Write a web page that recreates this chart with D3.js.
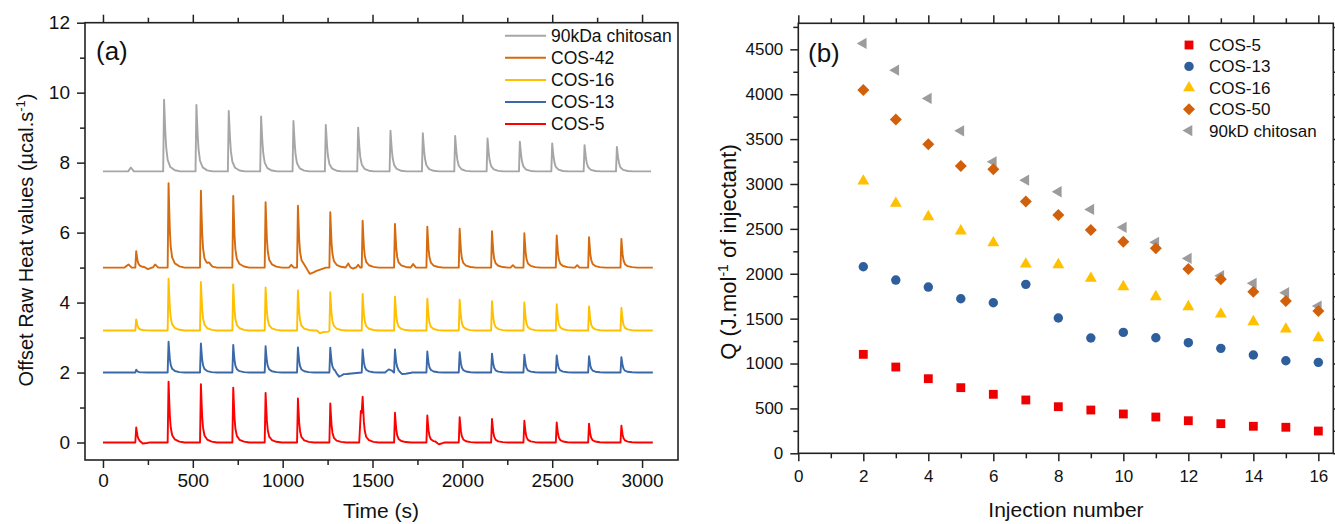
<!DOCTYPE html>
<html><head><meta charset="utf-8">
<script src="https://cdn.jsdelivr.net/npm/d3@7"></script>
<style>
body{margin:0;background:#fff;}
svg{display:block;font-family:"Liberation Sans",Arial,sans-serif;}
</style></head><body>
<svg id="c" width="1335" height="524"></svg>
<script>
// ================= Panel (a) data =================
const injTimes   = [185,365,545,725,905,1085,1265,1445,1625,1805,1985,2165,2345,2525,2705,2885];
const grayTimes  = [340,520,700,880,1060,1240,1420,1600,1780,1960,2140,2320,2500,2680,2860];
const cos5Peaks  = [0.43,1.74,1.67,1.57,1.42,1.26,1.12,1.31,0.85,0.77,0.72,0.67,0.62,0.57,0.54,0.48];
const cos13Peaks = [2.08,2.88,2.83,2.79,2.75,2.72,2.71,2.66,2.66,2.60,2.58,2.54,2.51,2.49,2.47,2.44];
const cos16Peaks = [3.52,4.68,4.59,4.52,4.43,4.35,4.30,4.25,4.17,4.11,4.08,4.04,4.00,3.95,3.89,3.85];
const cos42Peaks = [5.47,7.41,7.20,7.05,6.87,6.77,6.58,6.34,6.25,6.17,6.11,6.04,5.98,5.92,5.87,5.82];
const grayPeaks  = [9.80,9.65,9.48,9.32,9.19,9.08,9.00,8.91,8.84,8.76,8.69,8.60,8.55,8.50,8.45];
const traceNames     = ["90kDa chitosan","COS-42","COS-16","COS-13","COS-5"];
const traceBaselines = [7.75,5.0,3.2,2.0,0];
const traceEnds      = [3050,3060,3060,3060,3060];
// shape of one injection peak: time offset (s) and fraction of peak height
const peakProfileT = [-5,0,3,7,12,20,35,60,90];
const peakProfileF = [0,1,0.75,0.45,0.25,0.12,0.05,0.015,0];
const grayProfileF = [0,1,0.8,0.55,0.33,0.16,0.06,0.015,0];
// small bumps / dips seen on the traces: [time, value]
const grayEvents = [[[140,7.75],[155,7.86],[172,7.75]]];
const cos42Events = [
  [[120,5.0],[142,5.09],[160,5.0]], [[230,5.0],[250,4.95],[272,5.0]], [[278,5.0],[290,5.09],[308,5.0]],
  [[575,5.0],[590,5.07],[610,5.0]], [[1035,5.0],[1048,5.08],[1062,5.0]],
  [[1120,5.0],[1152,4.80],[1185,4.9],[1240,5.0]],
  [[1350,5.0],[1365,5.12],[1378,5.0]], [[1380,5.0],[1392,4.97],[1404,5.0]], [[1408,5.0],[1420,5.08],[1432,5.0]],
  [[1712,5.0],[1726,5.10],[1742,5.0]], [[2268,5.0],[2281,5.07],[2295,5.0]], [[2626,5.0],[2639,5.07],[2652,5.0]]
];
const cos16Events = [[[1192,3.2],[1207,3.12],[1220,3.15],[1255,3.17],[1262,3.2]]];
const cos13Events = [
  [[1290,2.0],[1314,1.86],[1340,1.95],[1440,2.0]],
  [[1570,2.0],[1590,2.09],[1610,2.05],[1619,2.0]],
  [[1640,2.0],[1665,1.93],[1720,2.0]]
];
const cos5Events = [
  [[200,0],[222,-0.05],[262,0]],
  [[1426,0],[1435,0.90],[1440,0.85],[1445,0]],
  [[1850,0],[1870,-0.06],[1900,0]]
];
const traceColors = ["#a6a6a6","#d56b0f","#ffc000","#3a68a8","#ff0000"];

// ================= Panel (b) data =================
const injNumbers = [2,3,4,5,6,7,8,9,10,11,12,13,14,15,16];
const qCOS5  = [1102,961,831,731,657,594,519,482,438,404,363,330,301,290,248];
const qCOS13 = [2078,1930,1852,1722,1677,1882,1507,1284,1347,1287,1232,1169,1095,1031,1013];
const qCOS16 = [3032,2784,2635,2476,2345,2108,2100,1949,1855,1744,1633,1551,1466,1384,1287];
const qCOS50 = [4046,3719,3444,3199,3163,2806,2654,2487,2357,2283,2052,1938,1800,1696,1585];
const qChitosan = [4566,4268,3953,3592,3247,3043,2913,2717,2517,2350,2171,1978,1893,1788,1640];
const seriesNamesB  = ["COS-5","COS-13","COS-16","COS-50","90kD chitosan"];
const seriesColorsB = ["#ee0000","#2e5f9c","#ffc000","#d2600a","#9c9c9c"];

// ================= helpers =================
const svg = d3.select("#c");
function interp(f, t){
  if (t < f[0][0] || t > f[f.length-1][0]) return 0;
  for (let i=0;i<f.length-1;i++){
    const a=f[i], b=f[i+1];
    if (t>=a[0] && t<=b[0]){ if (b[0]===a[0]) return b[1]; return a[1]+(b[1]-a[1])*(t-a[0])/(b[0]-a[0]); }
  }
  return 0;
}
function buildTrace(base, times, peaks, events, tEnd, profF){
  const feats = [];
  times.forEach((t,i)=>feats.push(peakProfileT.map((dt,j)=>[t+dt, profF[j]*(peaks[i]-base)])));
  events.forEach(ev=>feats.push(ev.map(([t,v])=>[t, v-base])));
  let keys = [0, tEnd];
  feats.forEach(f=>f.forEach(p=>keys.push(p[0])));
  keys = Array.from(new Set(keys)).filter(t=>t>=0&&t<=tEnd).sort((a,b)=>a-b);
  return keys.map(t=>[t, base + d3.sum(feats, f=>interp(f,t))]);
}

// ================= Panel (a) =================
const xa = d3.scaleLinear().domain([-100,3200]).range([85,678]);
const ya = d3.scaleLinear().domain([-0.5,12]).range([460,22.7]);

const traces = [
  buildTrace(traceBaselines[0], grayTimes, grayPeaks, grayEvents, traceEnds[0], grayProfileF),
  buildTrace(traceBaselines[1], injTimes, cos42Peaks, cos42Events, traceEnds[1], peakProfileF),
  buildTrace(traceBaselines[2], injTimes, cos16Peaks, cos16Events, traceEnds[2], peakProfileF),
  buildTrace(traceBaselines[3], injTimes, cos13Peaks, cos13Events, traceEnds[3], peakProfileF),
  buildTrace(traceBaselines[4], injTimes, cos5Peaks, cos5Events, traceEnds[4], peakProfileF)
];
const lineA = d3.line().x(d=>xa(d[0])).y(d=>ya(d[1]));
const ga = svg.append("g");
traces.forEach((tr,i)=>{
  ga.append("path").datum(tr).attr("d",lineA).attr("fill","none")
    .attr("stroke",traceColors[i]).attr("stroke-width",1.9).attr("stroke-linejoin","round");
});

function styleAxis(g, fs){
  g.select(".domain").remove();
  g.selectAll(".tick line").attr("stroke","#222").attr("stroke-width",1.5);
  g.selectAll("text").attr("fill","#111").style("font-size",fs+"px").attr("font-family",null);
  g.attr("font-family",null).attr("font-size",null);
}
const xMajA = d3.range(0,3001,500), xMinA = d3.range(250,3000,500);
const yMajA = d3.range(0,13,2), yMinA = d3.range(1,12,2);
let g;
g = svg.append("g").attr("transform","translate(0,460)").call(d3.axisBottom(xa).tickValues(xMajA).tickSize(8).tickPadding(6).tickFormat(d3.format("d"))); styleAxis(g,19);
g = svg.append("g").attr("transform","translate(0,460)").call(d3.axisBottom(xa).tickValues(xMinA).tickSize(5).tickFormat("")); styleAxis(g,19);
g = svg.append("g").attr("transform","translate(0,22.7)").call(d3.axisTop(xa).tickValues(xMajA).tickSize(8).tickFormat("")); styleAxis(g,19);
g = svg.append("g").attr("transform","translate(0,22.7)").call(d3.axisTop(xa).tickValues(xMinA).tickSize(5).tickFormat("")); styleAxis(g,19);
g = svg.append("g").attr("transform","translate(85,0)").call(d3.axisLeft(ya).tickValues(yMajA).tickSize(8).tickPadding(7).tickFormat(d3.format("d"))); styleAxis(g,19);
g = svg.append("g").attr("transform","translate(85,0)").call(d3.axisLeft(ya).tickValues(yMinA).tickSize(5).tickFormat("")); styleAxis(g,19);
svg.append("rect").attr("x",85).attr("y",22.7).attr("width",593).attr("height",437.3)
  .attr("fill","none").attr("stroke","#222").attr("stroke-width",1.6);

svg.append("text").attr("x",96).attr("y",60).style("font-size","26px").attr("fill","#111").text("(a)");

// legend (a)
const legA = svg.append("g");
traceNames.forEach((n,i)=>{
  const y = 35.7 + i*22.1;
  legA.append("line").attr("x1",505).attr("x2",546).attr("y1",y).attr("y2",y)
    .attr("stroke",traceColors[i]).attr("stroke-width",2);
  legA.append("text").attr("x",551).attr("y",y+6).style("font-size","17.5px").attr("fill","#111").text(n);
});

// axis titles (a)
const yt = svg.append("text").attr("transform","translate(33,240) rotate(-90)")
  .attr("text-anchor","middle").style("font-size","20px").attr("fill","#111");
yt.append("tspan").text("Offset Raw Heat values (µcal.s");
yt.append("tspan").attr("dy",-8).style("font-size","13px").text("-1");
yt.append("tspan").attr("dy",8).text(")");
svg.append("text").attr("x",381).attr("y",518).attr("text-anchor","middle")
  .style("font-size","21px").attr("fill","#111").text("Time (s)");

// ================= Panel (b) =================
const xb = d3.scaleLinear().domain([0,16.46]).range([798.3,1333.3]);
const yb = d3.scaleLinear().domain([0,4790]).range([453.3,23.3]);
const xMajB = d3.range(0,17,2), xMinB = d3.range(1,17,2);
const yMajB = d3.range(0,4501,500), yMinB = d3.range(250,4790,500);
g = svg.append("g").attr("transform","translate(0,453.3)").call(d3.axisBottom(xb).tickValues(xMajB).tickSize(8).tickPadding(9).tickFormat(d3.format("d"))); styleAxis(g,17);
g = svg.append("g").attr("transform","translate(0,453.3)").call(d3.axisBottom(xb).tickValues(xMinB).tickSize(5).tickFormat("")); styleAxis(g,17);
g = svg.append("g").attr("transform","translate(0,23.3)").call(d3.axisTop(xb).tickValues(xMajB).tickSize(8).tickFormat("")); styleAxis(g,17);
g = svg.append("g").attr("transform","translate(0,23.3)").call(d3.axisTop(xb).tickValues(xMinB).tickSize(5).tickFormat("")); styleAxis(g,17);
g = svg.append("g").attr("transform","translate(798.3,0)").call(d3.axisLeft(yb).tickValues(yMajB).tickSize(8).tickPadding(7).tickFormat(d3.format("d"))); styleAxis(g,17);
g = svg.append("g").attr("transform","translate(798.3,0)").call(d3.axisLeft(yb).tickValues(yMinB).tickSize(5).tickFormat("")); styleAxis(g,17);
g = svg.append("g").attr("transform","translate(1333.3,0)").call(d3.axisRight(yb).tickValues(yMajB).tickSize(8).tickFormat("")); styleAxis(g,17);
g = svg.append("g").attr("transform","translate(1333.3,0)").call(d3.axisRight(yb).tickValues(yMinB).tickSize(5).tickFormat("")); styleAxis(g,17);
svg.append("rect").attr("x",798.3).attr("y",23.3).attr("width",535).attr("height",430)
  .attr("fill","none").attr("stroke","#222").attr("stroke-width",1.6);

svg.append("text").attr("x",808).attr("y",62).style("font-size","26px").attr("fill","#111").text("(b)");

const symbolsB = [
  {type:d3.symbolSquare, size:78, rot:0},
  {type:d3.symbolCircle, size:70, rot:0},
  {type:d3.symbolTriangle, size:62, rot:0},
  {type:d3.symbolSquare, size:72, rot:45},
  {type:d3.symbolTriangle, size:56, rot:-90}
];
const seriesB = [qCOS5,qCOS13,qCOS16,qCOS50,qChitosan];
const drawOrder = [4,0,1,2,3];
drawOrder.forEach(si=>{
  const s = symbolsB[si];
  const path = d3.symbol().type(s.type).size(s.size)();
  svg.append("g").selectAll("path").data(seriesB[si]).join("path")
    .attr("d",path)
    .attr("transform",(d,i)=>`translate(${xb(injNumbers[i])},${yb(d)}) rotate(${s.rot})`)
    .attr("fill",seriesColorsB[si]);
});

// legend (b)
seriesNamesB.forEach((n,i)=>{
  const y = 45 + i*21.4;
  const s = symbolsB[i];
  svg.append("path").attr("d",d3.symbol().type(s.type).size(s.size)())
    .attr("transform",`translate(1189,${y}) rotate(${s.rot})`).attr("fill",seriesColorsB[i]);
  svg.append("text").attr("x",1209).attr("y",y+6).style("font-size","17px").attr("fill","#111").text(n);
});

// axis titles (b)
const ytb = svg.append("text").attr("transform","translate(736,252) rotate(-90)")
  .attr("text-anchor","middle").style("font-size","22px").attr("fill","#111");
ytb.append("tspan").text("Q (J.mol");
ytb.append("tspan").attr("dy",-8).style("font-size","14px").text("-1");
ytb.append("tspan").attr("dy",8).text(" of injectant)");
svg.append("text").attr("x",1066).attr("y",517).attr("text-anchor","middle")
  .style("font-size","21px").attr("fill","#111").text("Injection number");
</script>
</body></html>
